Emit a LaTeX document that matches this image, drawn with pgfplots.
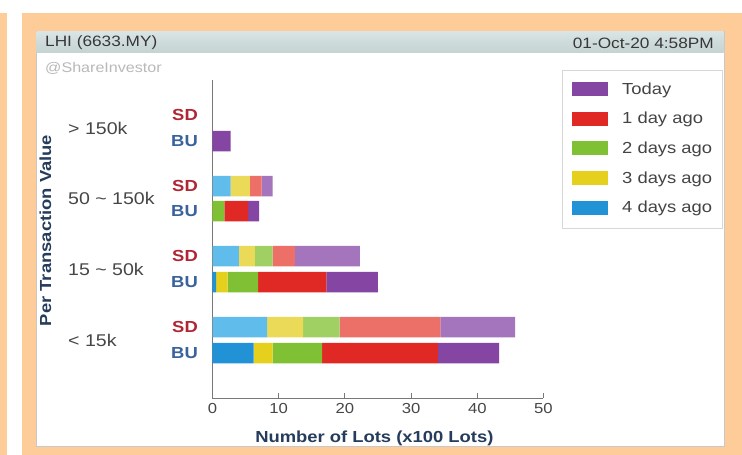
\documentclass[border=0pt]{standalone}
\usepackage{pgfplots}
\pgfplotsset{compat=1.18}
\usepackage{pgfplotstable}
\usepackage{fontspec}
\setmainfont{Liberation Sans}[FakeStretch=1.15]

\definecolor{orangebg}{RGB}{253,204,153}
\definecolor{panelborder}{RGB}{200,200,200}
\definecolor{headtop}{RGB}{218,228,228}
\definecolor{headbot}{RGB}{196,211,211}
\definecolor{headtext}{RGB}{55,55,55}
\definecolor{wmark}{RGB}{185,185,185}
\definecolor{axisgray}{RGB}{120,120,120}
\definecolor{ticktext}{RGB}{70,70,70}
\definecolor{navy}{RGB}{38,60,92}
\definecolor{sdred}{RGB}{176,38,52}
\definecolor{bublue}{RGB}{58,98,156}
\definecolor{legendborder}{RGB}{215,215,215}
\definecolor{legendtext}{RGB}{68,68,68}
% BU colours
\definecolor{cblue}{RGB}{34,146,214}
\definecolor{cyellow}{RGB}{230,208,30}
\definecolor{cgreen}{RGB}{128,192,52}
\definecolor{cred}{RGB}{224,40,36}
\definecolor{cpurple}{RGB}{132,70,162}
% SD colours (lighter)
\definecolor{sblue}{RGB}{96,188,234}
\definecolor{syellow}{RGB}{234,218,88}
\definecolor{sgreen}{RGB}{160,208,100}
\definecolor{sred}{RGB}{236,112,104}
\definecolor{spurple}{RGB}{164,116,188}

\pgfplotstableread{
y blue yellow green red purple
45 6.20 2.87 7.48 17.48 9.27
116 0.53 1.76 4.61 10.30 7.79
187 0 0 1.78 3.62 1.66
257 0 0 0 0 2.74
}\budata

\pgfplotstableread{
y blue yellow green red purple
71 8.26 5.42 5.53 15.22 11.30
142 3.99 2.41 2.67 3.36 9.85
212 2.74 2.91 0 1.77 1.65
283 0 0 0 0 0
}\sddata

\pgfplotsset{common/.style={
  scale only axis, width=331pt, height=318pt,
  at={(212.5pt,-398pt)}, anchor=south west,
  xmin=0, xmax=50, ymin=0, ymax=318,
  xbar stacked, bar width=20.5,
  every axis plot/.append style={draw=none},
}}

\begin{document}
\begin{tikzpicture}[x=1pt,y=1pt]
\path[use as bounding box] (0,0) rectangle (742,-455);
\fill[white] (0,0) rectangle (742,-455);
\fill[orangebg] (0,-13) rectangle (7,-455);
\fill[orangebg] (22,-13) rectangle (742,-455);
\fill[white, draw=panelborder, line width=1pt] (36,-31) rectangle (724,-446);
\shade[top color=headtop, bottom color=headbot] (36.5,-31.5) rectangle (723.5,-52.5);
\node[anchor=west, inner sep=0pt, text=headtext, font=\fontsize{15}{18}\selectfont] at (45,-43) {LHI (6633.MY)};
\node[anchor=east, inner sep=0pt, text=headtext, font=\fontsize{15}{18}\selectfont] at (714,-43) {01-Oct-20 4:58PM};
\node[anchor=west, inner sep=0pt, text=wmark, font=\fontsize{14}{17}\selectfont] at (45,-68) {@ShareInvestor};

\begin{axis}[
  axis x line*=bottom, axis y line*=left,
  common,
  axis line style={draw=axisgray, line width=0.8pt, -},
  xtick={0,10,20,30,40,50},
  tick align=inside, major tick length=5pt,
  xtick style={draw=axisgray, line width=0.8pt},
  /pgf/number format/assume math mode=true,
  xticklabel style={font=\fontsize{14.5}{17}\selectfont, text=ticktext, yshift=-2pt},
  ytick={45,71,116,142,187,212,257,283},
  yticklabels={\textcolor{bublue}{BU},\textcolor{sdred}{SD},\textcolor{bublue}{BU},\textcolor{sdred}{SD},\textcolor{bublue}{BU},\textcolor{sdred}{SD},\textcolor{bublue}{BU},\textcolor{sdred}{SD}},
  ytick style={draw=none},
  yticklabel style={font=\bfseries\fontsize{16}{19}\selectfont, anchor=east, inner ysep=0pt, inner xsep=14.5pt},
  extra y ticks={58,129,200,270},
  extra y tick labels={{< 15k},{15 \textasciitilde{} 50k},{50 \textasciitilde{} 150k},{> 150k}},
  extra y tick style={yticklabel style={font=\fontsize{17}{20}\selectfont, text=ticktext, anchor=west, inner xsep=0pt, xshift=-144.5pt}},
  xlabel={Number of Lots (x100 Lots)},
  xlabel style={font=\bfseries\fontsize{16}{19}\selectfont, text=navy, at={(axis description cs:0.489,-0.128)}, anchor=center},
  ylabel={Per Transaction Value},
  ylabel style={font=\bfseries\fontsize{16}{19}\selectfont, text=navy, at={(axis description cs:-0.5045,0.527)}, anchor=center},
  reverse legend,
  legend cell align=left,
  legend image code/.code={\fill[#1, draw=none] (0pt,-6pt) rectangle (36pt,8pt);},
  legend style={at={(axis description cs:1.0559,1.0314)}, anchor=north west,
    draw=legendborder, fill=white, inner xsep=10pt, inner ysep=12pt,
    font=\fontsize{16}{19}\selectfont, column sep=14pt, row sep=13.6pt,
    nodes={inner sep=0pt, text height=12pt, text depth=4pt, text=legendtext}},
]
\addplot[fill=cblue] table[x=blue, y=y] {\budata};
\addlegendentry{4 days ago}
\addplot[fill=cyellow] table[x=yellow, y=y] {\budata};
\addlegendentry{3 days ago}
\addplot[fill=cgreen] table[x=green, y=y] {\budata};
\addlegendentry{2 days ago}
\addplot[fill=cred] table[x=red, y=y] {\budata};
\addlegendentry{1 day ago}
\addplot[fill=cpurple] table[x=purple, y=y] {\budata};
\addlegendentry{Today}
\end{axis}

\begin{axis}[common, hide axis]
\addplot[fill=sblue] table[x=blue, y=y] {\sddata};
\addplot[fill=syellow] table[x=yellow, y=y] {\sddata};
\addplot[fill=sgreen] table[x=green, y=y] {\sddata};
\addplot[fill=sred] table[x=red, y=y] {\sddata};
\addplot[fill=spurple] table[x=purple, y=y] {\sddata};
\end{axis}
\end{tikzpicture}
\end{document}
